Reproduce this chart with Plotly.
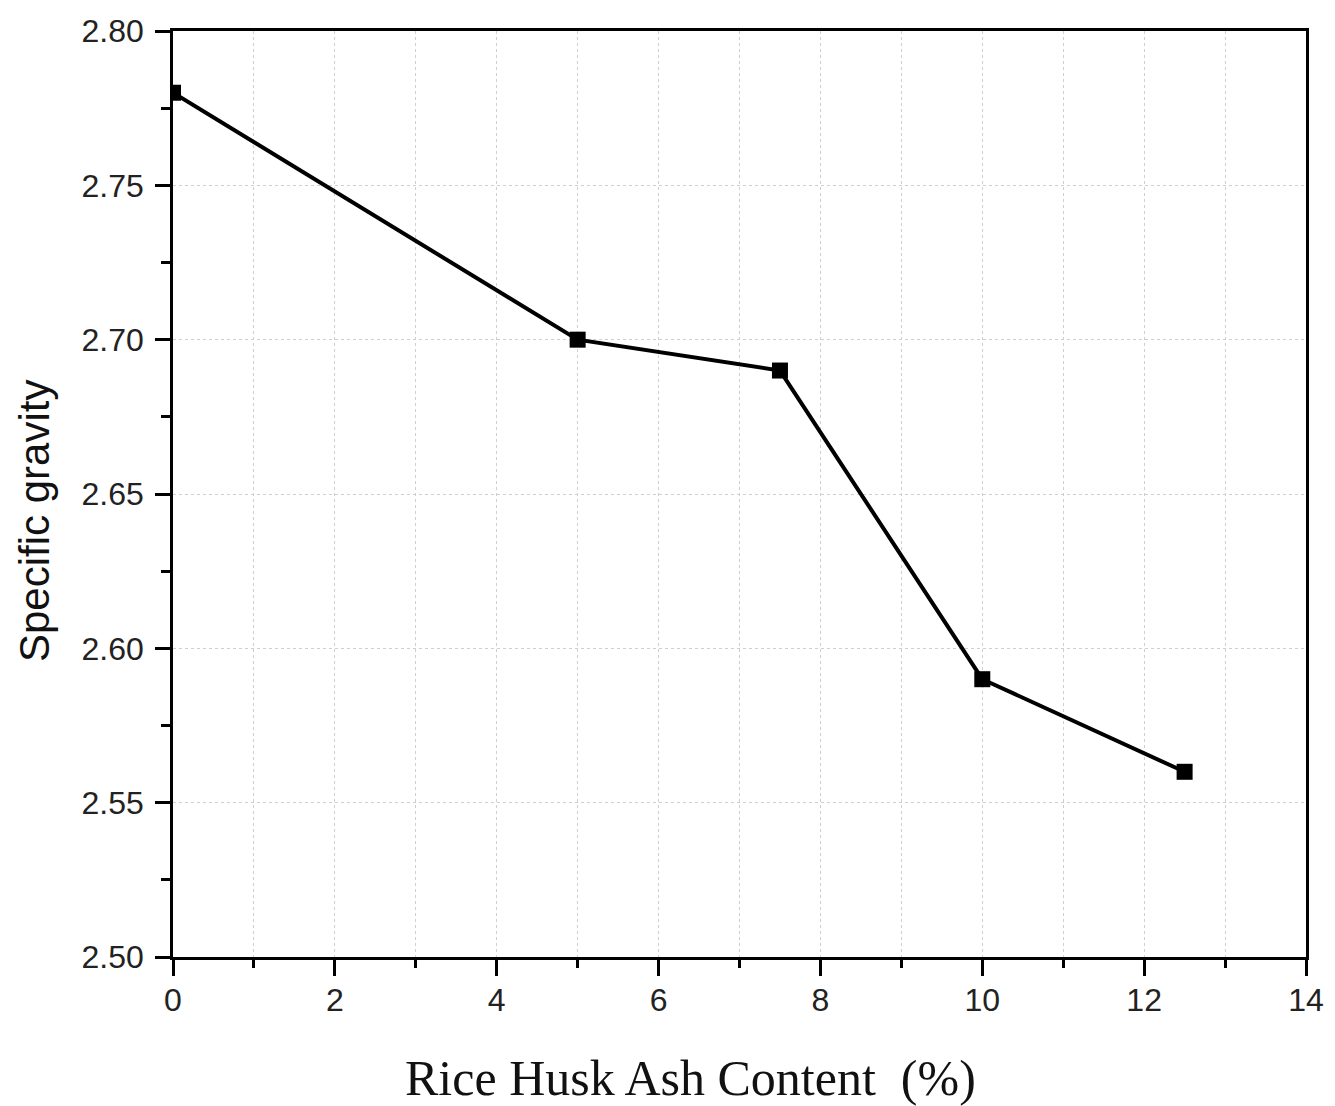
import plotly.graph_objects as go

# Rice husk ash content (%) and measured specific gravity
rha_content = [0, 5, 7.5, 10, 12.5]
specific_gravity = [2.78, 2.70, 2.69, 2.59, 2.56]

x_ticks = [0, 2, 4, 6, 8, 10, 12, 14]
y_ticks = [2.50, 2.55, 2.60, 2.65, 2.70, 2.75, 2.80]

fig = go.Figure()
fig.add_trace(go.Scatter(
    x=rha_content,
    y=specific_gravity,
    mode="lines+markers",
    line=dict(color="black", width=4),
    marker=dict(symbol="square", size=16, color="black"),
    cliponaxis=True,
    showlegend=False,
))

grid = dict(showgrid=True, gridcolor="#cfcfcf", gridwidth=1, griddash="dot")

fig.update_layout(
    width=1335,
    height=1106,
    margin=dict(l=173, r=29, t=31, b=149),
    paper_bgcolor="white",
    plot_bgcolor="white",
    font=dict(family="Liberation Sans, Arial, sans-serif", color="#222"),
    xaxis=dict(
        range=[0, 14],
        tickvals=x_ticks,
        ticktext=[str(v) for v in x_ticks],
        ticks="outside", ticklen=16, tickwidth=2.5, tickcolor="black",
        tickfont=dict(size=32),
        ticklabelstandoff=-3,
        showline=True, linecolor="black", linewidth=2.5, mirror=True,
        zeroline=False,
        minor=dict(dtick=1, ticks="outside", ticklen=8, tickwidth=2.5,
                   tickcolor="black", **grid),
        **grid,
    ),
    yaxis=dict(
        range=[2.50, 2.80],
        tickvals=y_ticks,
        ticktext=[f"{v:.2f}" for v in y_ticks],
        ticks="outside", ticklen=15, tickwidth=2.5, tickcolor="black",
        tickfont=dict(size=32),
        ticklabelstandoff=5,
        showline=True, linecolor="black", linewidth=2.5, mirror=True,
        zeroline=False,
        minor=dict(dtick=0.025, tick0=2.5, ticks="outside", ticklen=9, tickwidth=2.5,
                   tickcolor="black", showgrid=False),
        **grid,
    ),
    annotations=[
        dict(text="Rice Husk Ash Content  (%)", xref="paper", yref="paper",
             x=(690 - 173) / (1306 - 173), y=-(1078 - 957) / (957 - 31),
             xanchor="center", yanchor="middle", showarrow=False,
             font=dict(family="Liberation Serif, Times New Roman, serif", size=50, color="#111")),
        dict(text="Specific gravity", xref="paper", yref="paper",
             x=-(173 - 34) / (1306 - 173), y=(957 - 521) / (957 - 31),
             xanchor="center", yanchor="middle", textangle=-90, showarrow=False,
             font=dict(size=42, color="#111")),
    ],
)

fig.write_html("out.html")
